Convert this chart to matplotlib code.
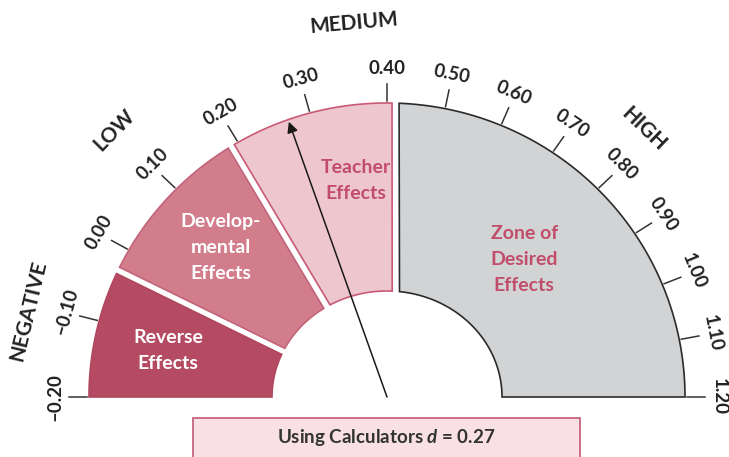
import numpy as np
import matplotlib
matplotlib.use("Agg")
import matplotlib.pyplot as plt
from matplotlib.patches import Polygon, Rectangle

plt.rcParams['font.family'] = ['Lato', 'DejaVu Sans']
plt.rcParams['mathtext.fontset'] = 'custom'
plt.rcParams['mathtext.rm'] = 'Lato:bold'
plt.rcParams['mathtext.it'] = 'Lato:bold:italic'
plt.rcParams['mathtext.bf'] = 'Lato:bold'

# ---------------- data ----------------
scale_min, scale_mid, scale_max = -0.20, 0.40, 1.20
tick_values = [-0.20, -0.10, 0.00, 0.10, 0.20, 0.30, 0.40, 0.50, 0.60, 0.70,
               0.80, 0.90, 1.00, 1.10, 1.20]
tick_labels = ["\u20130.20", "\u20130.10", "0.00", "0.10", "0.20", "0.30", "0.40",
               "0.50", "0.60", "0.70", "0.80", "0.90", "1.00", "1.10", "1.20"]
zone_bounds = [-0.20, -0.03, 0.19, 0.40, 1.20]
zone_names = ["Reverse\nEffects", "Develop-\nmental\nEffects", "Teacher\nEffects",
              "Zone of\nDesired\nEffects"]
zone_label_values = [-0.12, 0.08, 0.345, 0.80]
category_names = ["NEGATIVE", "LOW", "MEDIUM", "HIGH"]
category_values = [-0.11, 0.096, 0.366, 0.79]
effect_name = "Using Calculators"
effect_size = 0.27

# ---------------- style / layout ----------------
zone_colors = ["#b44b63", "#d17d8b", "#eec6cd", "#d1d3d4"]
zone_edges = ["#b0475f", "#c3647b", "#c85a74", "#2b2b2b"]
zone_text_colors = ["white", "white", "#c24d6b", "#c24d6b"]
zone_label_r = [224, 224, 219, 194]
category_r = [369, 381, 375, 371]
boundary_shift = [0, 0, 0, 8.5, 0]   # perpendicular shift of the gap
boundary_half = [0, 3.5, 3.5, 3.5, 0]  # half gap width

CX, CY = 387.0, 397.0
RX, RY = 298.0, 294.0
rx, ry = 115.0, 106.0
W, H = 729, 457


def ang(v):
    if v <= scale_mid:
        return 180.0 - (v - scale_min) / (scale_mid - scale_min) * 90.0
    return 90.0 - (v - scale_mid) / (scale_max - scale_mid) * 90.0


def pt(theta_deg, ax_r, ay_r):
    t = np.radians(theta_deg)
    return CX + ax_r * np.cos(t), CY - ay_r * np.sin(t)


fig = plt.figure(figsize=(W / 100, H / 100), dpi=100)
ax = fig.add_axes([0, 0, 1, 1])
ax.set_xlim(0, W)
ax.set_ylim(H, 0)
ax.axis('off')

# zones
for i in range(len(zone_names)):
    v0, v1 = zone_bounds[i], zone_bounds[i + 1]
    th0, th1 = ang(v0), ang(v1)
    d0 = boundary_shift[i] + boundary_half[i]
    d1 = boundary_shift[i + 1] - boundary_half[i + 1]

    def arc(ax_r, ay_r, n=80):
        r = 0.5 * (ax_r + ay_r)
        a = th0 - np.degrees(np.arcsin(d0 / r))
        b = th1 - np.degrees(np.arcsin(d1 / r))
        ts = np.linspace(a, b, n)
        return [pt(t, ax_r, ay_r) for t in ts]

    outer = arc(RX, RY)
    inner = arc(rx, ry)[::-1]
    poly = Polygon(outer + inner, closed=True, facecolor=zone_colors[i],
                   edgecolor=zone_edges[i], lw=1.2, joinstyle='miter', zorder=2)
    ax.add_patch(poly)

    lx, ly = pt(ang(zone_label_values[i]), zone_label_r[i], zone_label_r[i])
    ax.text(lx, ly, zone_names[i], ha='center', va='center', fontsize=14,
            fontweight='bold', color=zone_text_colors[i], linespacing=1.65,
            zorder=4)

# ticks and tick labels
for v, lab in zip(tick_values, tick_labels):
    th = ang(v)
    x0, y0 = pt(th, RX + 2, RY + 2)
    x1, y1 = pt(th, RX + 20, RY + 19)
    ax.plot([x0, x1], [y0, y1], color='#333333', lw=1.1, zorder=3)
    tx, ty = pt(th, RX + 34, RY + 35)
    ax.text(tx, ty, lab, rotation=th - 90, rotation_mode='anchor',
            ha='center', va='center', fontsize=13.5, fontweight='bold',
            color='#222222')

# category labels
for name, v, r in zip(category_names, category_values, category_r):
    th = ang(v)
    tx, ty = pt(th, r, r)
    ax.text(tx, ty, name, rotation=th - 90, rotation_mode='anchor',
            ha='center', va='center', fontsize=15, fontweight='bold',
            color='#222222')

# needle
th = ang(effect_size)
tipx, tipy = pt(th, RX - 4, RY - 2)
ax.annotate('', xy=(tipx, tipy), xytext=(CX, CY),
            arrowprops=dict(arrowstyle='-|>', color='#1a1a1a', lw=1.1,
                            mutation_scale=16, shrinkA=0, shrinkB=0),
            zorder=5)

# effect box
ax.add_patch(Rectangle((193, 418), 387, 60, facecolor='#f8e0e4',
                       edgecolor='#c8657d', lw=1.3, zorder=2))
ax.text(386.5, 438, effect_name + r" $\mathit{d}$ = " + f"{effect_size:.2f}",
        ha='center', va='center', fontsize=13.5, fontweight='bold',
        color='#333333', zorder=4)

fig.savefig("out.png", dpi=100)
